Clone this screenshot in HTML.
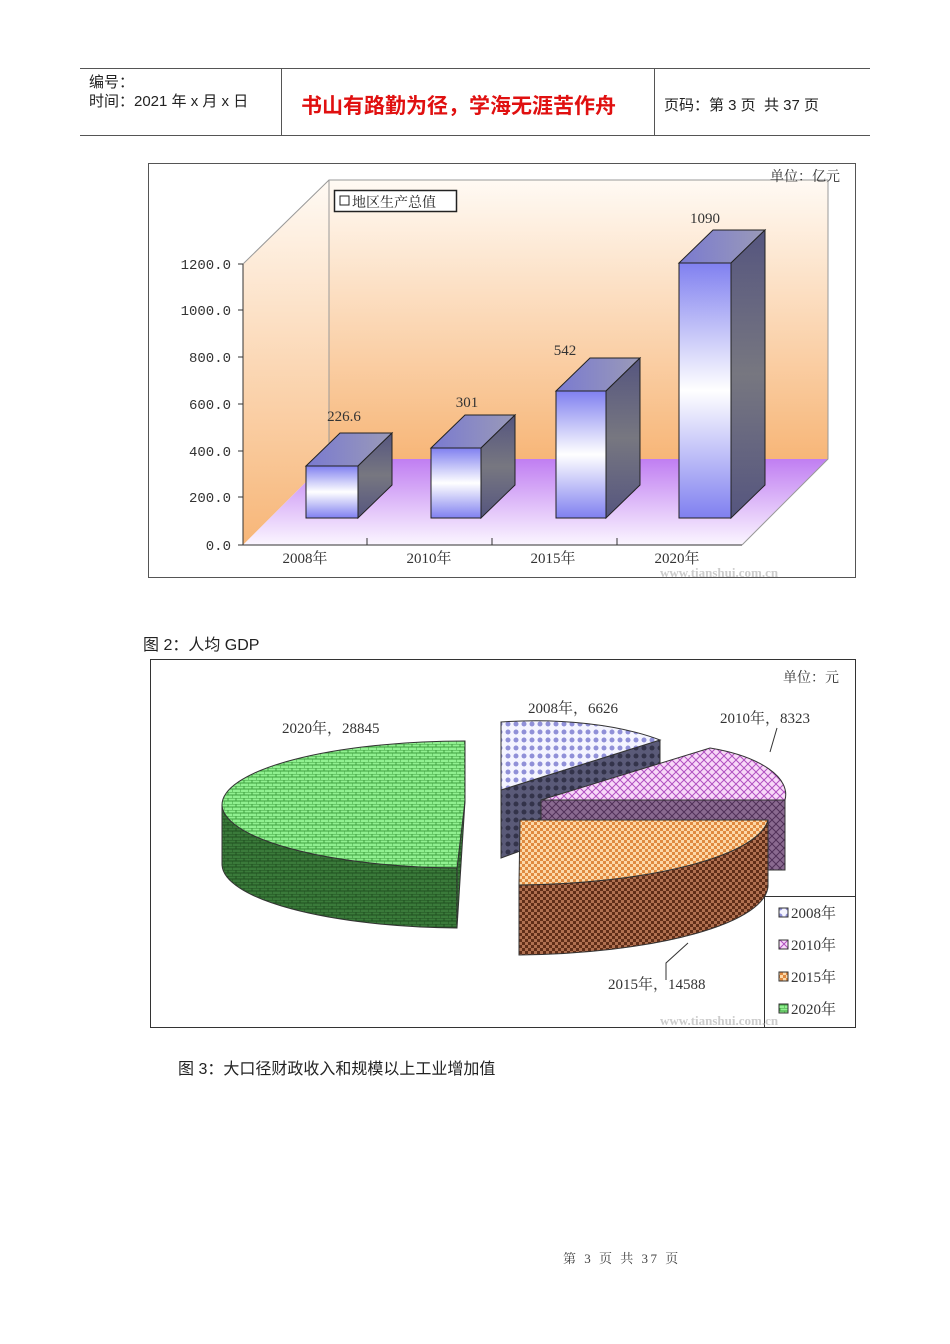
<!DOCTYPE html>
<html><head><meta charset="utf-8"><style>
body{margin:0;background:#fff;width:950px;height:1344px;position:relative;font-family:"Liberation Sans","Noto Sans CJK SC",sans-serif;}
.a{position:absolute;white-space:nowrap;}
</style></head><body>
<svg width="950" height="1344" style="position:absolute;left:0;top:0" font-family="Liberation Serif, Noto Serif CJK SC, serif">
<defs>
<linearGradient id="wall" x1="0" y1="0" x2="0" y2="1"><stop offset="0" stop-color="#fffaf4"/><stop offset="1" stop-color="#f7b678"/></linearGradient>
<linearGradient id="floor" x1="0" y1="0" x2="0" y2="1"><stop offset="0" stop-color="#c07ef2"/><stop offset="1" stop-color="#fbf6ff"/></linearGradient>
<linearGradient id="bar" x1="0" y1="0" x2="0" y2="1"><stop offset="0" stop-color="#8080f0"/><stop offset="0.5" stop-color="#ffffff"/><stop offset="1" stop-color="#8080f0"/></linearGradient>
<linearGradient id="side" x1="0" y1="0" x2="0" y2="1"><stop offset="0" stop-color="#55557f"/><stop offset="0.5" stop-color="#777780"/><stop offset="1" stop-color="#55557f"/></linearGradient>
<linearGradient id="top" x1="0" y1="0" x2="1" y2="0"><stop offset="0" stop-color="#7a7ad0"/><stop offset="1" stop-color="#9a9ab8"/></linearGradient>
<pattern id="pg" width="8" height="6" patternUnits="userSpaceOnUse"><rect width="8" height="6" fill="#90f090"/><path d="M0 0H8M4 0V3M0 3H8M0 3V6" stroke="#40a040" stroke-width="1"/></pattern>
<pattern id="pgd" width="8" height="6" patternUnits="userSpaceOnUse"><rect width="8" height="6" fill="#3a7a3a"/><path d="M0 0H8M4 0V3M0 3H8M0 3V6" stroke="#205020" stroke-width="1"/></pattern>
<pattern id="p08" width="8" height="8" patternUnits="userSpaceOnUse"><rect width="8" height="8" fill="#f4f4ff"/><circle cx="4" cy="4" r="2.5" fill="#9090d8"/></pattern>
<pattern id="p08d" width="8" height="8" patternUnits="userSpaceOnUse"><rect width="8" height="8" fill="#5a5a78"/><circle cx="4" cy="4" r="2.5" fill="#33334a"/></pattern>
<pattern id="p10" width="8" height="8" patternUnits="userSpaceOnUse"><rect width="8" height="8" fill="#f8d8f8"/><path d="M0 0L8 8M8 0L0 8" stroke="#b050c0" stroke-width="1"/></pattern>
<pattern id="p10d" width="8" height="8" patternUnits="userSpaceOnUse"><rect width="8" height="8" fill="#8a6a90"/><path d="M0 0L8 8M8 0L0 8" stroke="#503058" stroke-width="1"/></pattern>
<pattern id="p15" width="6" height="6" patternUnits="userSpaceOnUse"><rect width="6" height="6" fill="#fcd8a8"/><rect width="3" height="3" fill="#e08a40"/><rect x="3" y="3" width="3" height="3" fill="#e08a40"/></pattern>
<pattern id="p15d" width="6" height="6" patternUnits="userSpaceOnUse"><rect width="6" height="6" fill="#b07050"/><rect width="3" height="3" fill="#602e18"/><rect x="3" y="3" width="3" height="3" fill="#602e18"/></pattern>
</defs>
<line x1="80" y1="68.5" x2="870" y2="68.5" stroke="#555"/>
<line x1="80" y1="135.5" x2="870" y2="135.5" stroke="#555"/>
<line x1="281.5" y1="68" x2="281.5" y2="135" stroke="#555"/>
<line x1="654.5" y1="68" x2="654.5" y2="135" stroke="#555"/>
<rect x="148.5" y="163.5" width="707" height="414" fill="#fff" stroke="#555"/>
<polygon points="329,180 828,180 828,459 329,459" fill="url(#wall)"/>
<polygon points="243,264 329,180 329,459 243,545" fill="url(#wall)"/>
<polygon points="329,459 828,459 742,545 243,545" fill="url(#floor)"/>
<polyline points="243,264 329,180 828,180 828,459 742,545" fill="none" stroke="#999"/>
<line x1="329" y1="180" x2="329" y2="459" stroke="#999"/>
<line x1="243" y1="264" x2="243" y2="545" stroke="#333"/>
<line x1="243" y1="545" x2="742" y2="545" stroke="#333"/>
<g stroke="#333"><line x1="238" y1="264" x2="243" y2="264"/><line x1="238" y1="310" x2="243" y2="310"/><line x1="238" y1="357" x2="243" y2="357"/><line x1="238" y1="404" x2="243" y2="404"/><line x1="238" y1="451" x2="243" y2="451"/><line x1="238" y1="497" x2="243" y2="497"/><line x1="238" y1="545" x2="243" y2="545"/>
<line x1="367" y1="538" x2="367" y2="545"/><line x1="492" y1="538" x2="492" y2="545"/><line x1="617" y1="538" x2="617" y2="545"/></g>
<g font-size="14" fill="#333" text-anchor="end" font-family="Liberation Mono, monospace">
<text x="231" y="269">1200.0</text><text x="231" y="315">1000.0</text><text x="231" y="362">800.0</text><text x="231" y="409">600.0</text><text x="231" y="456">400.0</text><text x="231" y="502">200.0</text><text x="231" y="550">0.0</text></g>
<g font-size="15" fill="#333" text-anchor="middle">
<text x="305" y="563">2008年</text><text x="429" y="563">2010年</text><text x="553" y="563">2015年</text><text x="677" y="563">2020年</text>
<text x="344" y="421">226.6</text><text x="467" y="407">301</text><text x="565" y="355">542</text><text x="705" y="223">1090</text></g>
<g stroke="#222" stroke-width="1">
<polygon points="306,466 340,433 392,433 358,466" fill="url(#top)"/><polygon points="358,466 392,433 392,485 358,518" fill="url(#side)"/><rect x="306" y="466" width="52" height="52" fill="url(#bar)"/>
<polygon points="431,448 465,415 515,415 481,448" fill="url(#top)"/><polygon points="481,448 515,415 515,485 481,518" fill="url(#side)"/><rect x="431" y="448" width="50" height="70" fill="url(#bar)"/>
<polygon points="556,391 590,358 640,358 606,391" fill="url(#top)"/><polygon points="606,391 640,358 640,485 606,518" fill="url(#side)"/><rect x="556" y="391" width="50" height="127" fill="url(#bar)"/>
<polygon points="679,263 713,230 765,230 731,263" fill="url(#top)"/><polygon points="731,263 765,230 765,485 731,518" fill="url(#side)"/><rect x="679" y="263" width="52" height="255" fill="url(#bar)"/>
</g>
<rect x="334.5" y="190.5" width="122" height="21" fill="#fff" stroke="#222" stroke-width="1.5"/>
<rect x="340" y="196" width="9" height="9" fill="#fff" stroke="#222"/>
<text x="352" y="207" font-size="14" fill="#222">地区生产总值</text>
<text x="770" y="181" font-size="14" fill="#333">单位：亿元</text>
<text x="660" y="577" font-size="13" fill="#ccc" font-weight="bold">www.tianshui.com.cn</text>
<rect x="150.5" y="659.5" width="705" height="368" fill="#fff" stroke="#333"/>
<text x="783" y="682" font-size="14" fill="#333">单位：元</text>
<g stroke="#333" stroke-width="1">
<path d="M222,805 L222,865 A243,64 0 0 0 457,928 L457,868 A243,64 0 0 1 222,805 Z" fill="url(#pgd)"/>
<path d="M457,868 L457,928 L465,801 L465,741 Z" fill="url(#pgd)"/>
<path d="M465,741 L465,801 L457,868 A243,64 0 0 1 222,805 A243,64 0 0 1 465,741 Z" fill="url(#pg)"/>
<path d="M501,790 L660,740 L660,800 L501,858 Z" fill="url(#p08d)"/>
<path d="M501,722 A170,60 0 0 1 660,740 L501,790 Z" fill="url(#p08)"/>
<path d="M541,800 L785,800 L785,870 L541,870 Z" fill="url(#p10d)"/>
<path d="M541,800 L710,748 A120,50 0 0 1 785,800 Z" fill="url(#p10)"/>
<path d="M519,885 L519,955 A260,70 0 0 0 768,886 L768,820 A260,70 0 0 1 519,885 Z" fill="url(#p15d)"/>
<path d="M519,885 L520,820 L768,820 A260,70 0 0 1 519,885 Z" fill="url(#p15)"/>
</g>
<path d="M770,752 L777,728" stroke="#333" fill="none"/>
<path d="M688,943 L666,963 L666,980" stroke="#333" fill="none"/>
<g font-size="15" fill="#333">
<text x="282" y="733">2020年，28845</text><text x="528" y="713">2008年，6626</text><text x="720" y="723">2010年，8323</text><text x="608" y="989">2015年，14588</text></g>
<rect x="764.5" y="896.5" width="91" height="131" fill="#fff" stroke="#333"/>
<g font-size="15" fill="#333">
<rect x="779" y="908" width="9" height="9" fill="url(#p08)" stroke="#333"/><text x="791" y="918">2008年</text>
<rect x="779" y="940" width="9" height="9" fill="url(#p10)" stroke="#333"/><text x="791" y="950">2010年</text>
<rect x="779" y="972" width="9" height="9" fill="url(#p15)" stroke="#333"/><text x="791" y="982">2015年</text>
<rect x="779" y="1004" width="9" height="9" fill="url(#pg)" stroke="#333"/><text x="791" y="1014">2020年</text></g>
<text x="660" y="1025" font-size="13" fill="#ccc" font-weight="bold">www.tianshui.com.cn</text>
</svg>
<div class="a" style="left:89px;top:71px;font-size:15px;color:#222">编号：</div>
<div class="a" style="left:89px;top:90px;font-size:15px;color:#222">时间：2021 年 x 月 x 日</div>
<div class="a" style="left:301px;top:90px;font-size:21px;color:#e01010;font-weight:bold">书山有路勤为径，学海无涯苦作舟</div>
<div class="a" style="left:664px;top:94px;font-size:15px;color:#222">页码：第 3 页 &nbsp;共 37 页</div>
<div class="a" style="left:143px;top:631px;font-size:16px;color:#222">图 2：人均 GDP</div>
<div class="a" style="left:178px;top:1055px;font-size:16px;color:#222">图 3：大口径财政收入和规模以上工业增加值</div>
<div class="a" style="left:563px;top:1248px;font-size:13px;color:#444;letter-spacing:2.5px;font-family:'Liberation Serif','Noto Serif CJK SC',serif">第 3 页 共 37 页</div>
</body></html>
